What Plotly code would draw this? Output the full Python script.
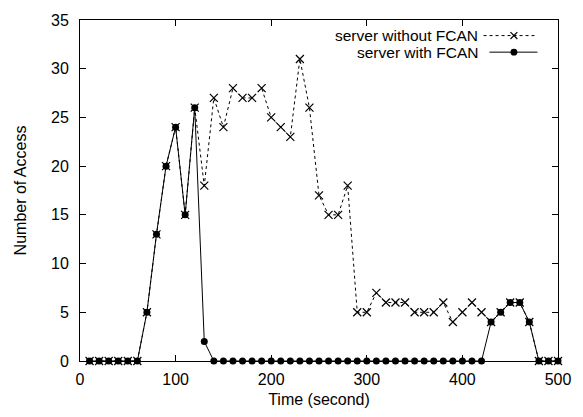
import plotly.graph_objects as go

time_s = list(range(10, 501, 10))
without_fcan = [0, 0, 0, 0, 0, 0, 5, 13, 20, 24, 15, 26,
                18, 27, 24, 28, 27, 27, 28, 25, 24, 23, 31, 26,
                17, 15, 15, 18, 5, 5, 7, 6, 6, 6, 5, 5, 5, 6, 4, 5, 6, 5,
                4, 5, 6, 6, 4, 0, 0, 0]
with_fcan = [0, 0, 0, 0, 0, 0, 5, 13, 20, 24, 15, 26,
             2] + [0] * 29 + [4, 5, 6, 6, 4, 0, 0, 0]

legend_labels = ["server without FCAN", "server with FCAN"]

FONT = "Liberation Sans, Arial, Helvetica, sans-serif"
FS = 16
W, H = 583, 417
L, R, T, B = 80, 568, 13, 363


def px(x):
    return (x - L) / (R - L)


def py(y):
    return (B - y) / (B - T)


fig = go.Figure()
fig.add_trace(go.Scatter(
    x=time_s, y=without_fcan, mode="lines+markers",
    line=dict(color="black", width=1, dash="dot"),
    marker=dict(symbol="x-thin", size=8, line=dict(color="black", width=1.2)),
    showlegend=False, cliponaxis=False, hoverinfo="skip"))
fig.add_trace(go.Scatter(
    x=time_s, y=with_fcan, mode="lines+markers",
    line=dict(color="black", width=1),
    marker=dict(symbol="circle", size=7, color="black"),
    showlegend=False, cliponaxis=False, hoverinfo="skip"))

shapes = []
annotations = []
rows = [29, 46]
for i, (lab, yy) in enumerate(zip(legend_labels, rows)):
    annotations.append(dict(xref="paper", yref="paper", x=px(488), y=py(yy),
                            text=lab, showarrow=False, xanchor="right",
                            yanchor="middle", font=dict(family=FONT, size=15.5, color="black")))
    if i == 0:
        shapes.append(dict(type="line", xref="paper", yref="paper",
                           x0=px(492), x1=px(544), y0=py(yy), y1=py(yy),
                           line=dict(color="black", width=1, dash="dot")))
        s = 3.5
        for d in (1, -1):
            shapes.append(dict(type="line", xref="paper", yref="paper",
                               x0=px(523 - s), x1=px(523 + s),
                               y0=py(yy - s * d), y1=py(yy + s * d),
                               line=dict(color="black", width=1.2)))
    else:
        shapes.append(dict(type="line", xref="paper", yref="paper",
                           x0=px(498), x1=px(547), y0=py(yy), y1=py(yy),
                           line=dict(color="black", width=1)))
        r = 3.5
        shapes.append(dict(type="circle", xref="paper", yref="paper",
                           x0=px(523 - r), x1=px(523 + r),
                           y0=py(yy - r), y1=py(yy + r),
                           fillcolor="black", line=dict(color="black", width=0)))

axis_common = dict(showgrid=False, zeroline=False, showline=True, linecolor="black",
                   linewidth=1, mirror="allticks", ticks="inside", ticklen=6,
                   tickcolor="black", tickfont=dict(family=FONT, size=FS, color="black"))

fig.update_layout(
    width=W, height=H,
    margin=dict(l=L, r=W - R, t=T, b=H - B),
    plot_bgcolor="white", paper_bgcolor="white",
    font=dict(family=FONT, size=FS, color="black"),
    xaxis=dict(range=[0, 500], tickvals=[0, 100, 200, 300, 400, 500],
               ticklabelstandoff=4,
               title=dict(text="Time (second)", standoff=6, font=dict(family=FONT, size=FS)),
               **axis_common),
    yaxis=dict(range=[0, 35], tickvals=[0, 5, 10, 15, 20, 25, 30, 35],
               ticklabelstandoff=7,
               title=dict(text="Number of Access", standoff=20, font=dict(family=FONT, size=FS)),
               **axis_common),
    shapes=shapes, annotations=annotations,
)

fig.write_html("out.html",
               config={"displayModeBar": False, "staticPlot": True},
               post_script="document.body.style.margin='0';"
                           "document.body.style.overflow='hidden';")
